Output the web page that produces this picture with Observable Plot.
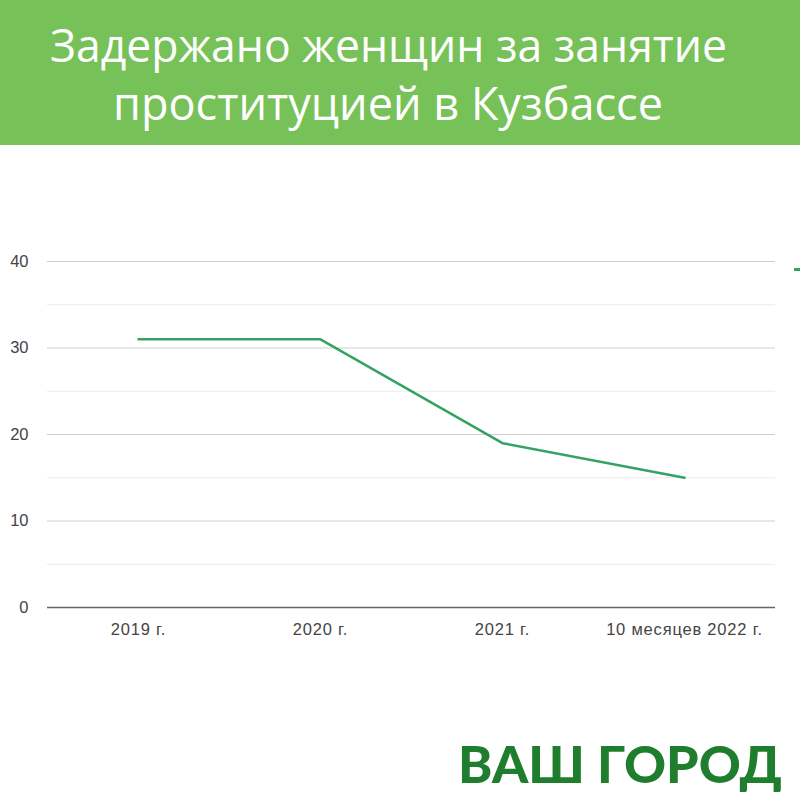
<!DOCTYPE html>
<html>
<head>
<meta charset="utf-8">
<script src="https://cdn.jsdelivr.net/npm/d3@7"></script>
<script src="https://cdn.jsdelivr.net/npm/@observablehq/plot@0.6"></script>
<style>
  html, body { margin: 0; padding: 0; }
  body { width: 800px; height: 800px; position: relative; overflow: hidden; background: #fff; }
  #header { position: absolute; left: 0; top: 0; width: 800px; height: 145px; background: #77c159; }
  #chart { position: absolute; left: 0; top: 200px; }
  #legend { position: absolute; left: 794px; top: 268px; width: 12px; height: 3px; background: #33a363; }
  #logo { position: absolute; left: 0; top: 720px; }
  #chart g[aria-label="x-axis tick label"] text { letter-spacing: 0.8px; }
</style>
</head>
<body>
<div id="header">
  <svg width="800" height="145">
    <text x="50" y="62" textLength="677" lengthAdjust="spacingAndGlyphs" fill="#fff"
      font-family="'Liberation Sans Narrow','Open Sans',sans-serif" font-size="46">Задержано женщин за занятие</text>
    <text x="113" y="120" textLength="550" lengthAdjust="spacingAndGlyphs" fill="#fff"
      font-family="'Liberation Sans Narrow','Open Sans',sans-serif" font-size="46">проституцией в Кузбассе</text>
  </svg>
</div>
<div id="chart"></div>
<div id="legend"></div>
<div id="logo">
  <svg width="800" height="80">
    <text x="458" y="63" textLength="324" lengthAdjust="spacingAndGlyphs" fill="#1f7d2e"
      font-family="Lato, 'DejaVu Sans', sans-serif" font-weight="900" font-size="52">ВАШ ГОРОД</text>
  </svg>
</div>
<script>
const categories = ["2019 г.", "2020 г.", "2021 г.", "10 месяцев 2022 г."];
const values = [31, 31, 19, 15];
const majorTicks = [0, 10, 20, 30, 40];
const minorTicks = [5, 15, 25, 35];

const data = categories.map((c, i) => ({label: c, value: values[i]}));

const chart = Plot.plot({
  width: 800,
  height: 460,
  marginTop: 61,
  marginBottom: 53,
  marginLeft: 47,
  marginRight: 25,
  style: {fontFamily: "'Liberation Sans', Arial, sans-serif", fontSize: "16px", color: "#444", background: "transparent"},
  x: {type: "point", domain: categories, padding: 0.5},
  y: {domain: [0, 40]},
  marks: [
    Plot.gridY(minorTicks, {stroke: "#ebebeb", strokeOpacity: 1, strokeWidth: 1}),
    Plot.gridY(majorTicks.filter(d => d > 0), {stroke: "#cfcfcf", strokeOpacity: 1, strokeWidth: 1}),
    Plot.ruleY([0], {stroke: "#666", strokeWidth: 1.5}),
    Plot.axisY(majorTicks, {tickSize: 0, tickPadding: 19, label: null, fill: "#444", fontSize: 16.5}),
    Plot.axisX({tickSize: 0, tickPadding: 16, label: null, fill: "#444", fontSize: 16.5}),
    Plot.line(data, {x: "label", y: "value", stroke: "#33a363", strokeWidth: 2.5})
  ]
});
document.getElementById("chart").appendChild(chart);
</script>
</body>
</html>
